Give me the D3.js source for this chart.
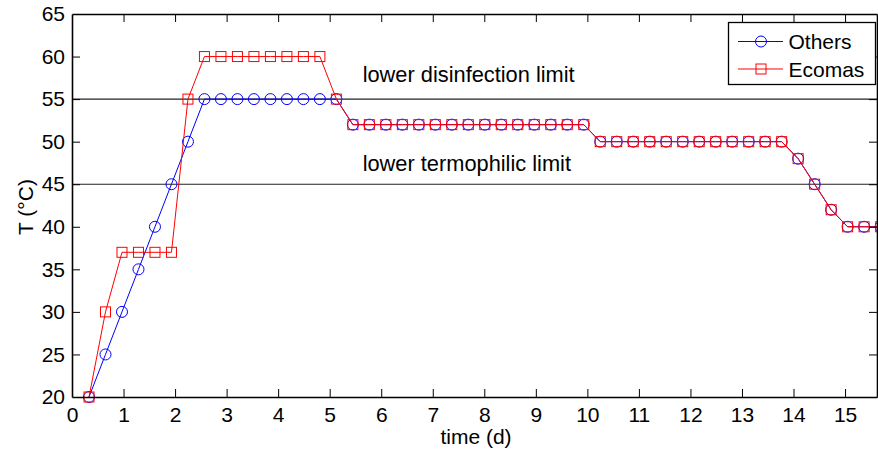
<!DOCTYPE html>
<html>
<head>
<meta charset="utf-8">
<script src="https://cdn.jsdelivr.net/npm/d3@7"></script>
<style>
  body { margin: 0; background: #fff; }
  svg { display: block; font-family: "Liberation Sans", Arial, sans-serif; }
</style>
</head>
<body>
<div id="chart"></div>
<script>
  // time grid (days), shared by both series
  var times = [0.33, 0.65, 0.97, 1.29, 1.61, 1.93, 2.25, 2.57, 2.89, 3.21, 3.53, 3.85, 4.17, 4.49, 4.81,
               5.13, 5.45, 5.77, 6.09, 6.41, 6.73, 7.05, 7.37, 7.69, 8.01, 8.33, 8.65, 8.97, 9.29, 9.61,
               9.93, 10.25, 10.57, 10.89, 11.21, 11.53, 11.85, 12.17, 12.49, 12.81, 13.13, 13.45, 13.77,
               14.09, 14.41, 14.73, 15.05, 15.37, 15.69];

  // temperature (°C)
  var others = [20, 25, 30, 35, 40, 45, 50, 55, 55, 55, 55, 55, 55, 55, 55,
                55, 52, 52, 52, 52, 52, 52, 52, 52, 52, 52, 52, 52, 52, 52,
                52, 50, 50, 50, 50, 50, 50, 50, 50, 50, 50, 50, 50,
                48, 45, 42, 40, 40, 40];
  var ecomas = [20, 30, 37, 37, 37, 37, 55, 60, 60, 60, 60, 60, 60, 60, 60,
                55, 52, 52, 52, 52, 52, 52, 52, 52, 52, 52, 52, 52, 52, 52,
                52, 50, 50, 50, 50, 50, 50, 50, 50, 50, 50, 50, 50,
                48, 45, 42, 40, 40, 40];

  var xTicks = d3.range(0, 16);
  var yTicks = [20, 25, 30, 35, 40, 45, 50, 55, 60, 65];

  // horizontal limit lines and their captions
  var limitValues = [55, 45];
  var limitLabels = ["lower disinfection limit", "lower termophilic limit"];
  var limitLabelX = [5.64, 5.64];
  var limitLabelY = [57.05, 46.6];

  var seriesNames = ["Others", "Ecomas"];
  var seriesColors = ["#0000ff", "#ff0000"];

  var fontSize = 21;
  var width = 878, height = 452;
  var margin = { top: 14, right: 1, bottom: 55, left: 72 };

  var x = d3.scaleLinear().domain([0, 15.62]).range([margin.left, width - margin.right]);
  var y = d3.scaleLinear().domain([20, 65]).range([height - margin.bottom, margin.top]);

  var svg = d3.select("#chart").append("svg")
              .attr("width", width)
              .attr("height", height);

  svg.append("defs").append("clipPath").attr("id", "plotClip")
     .append("rect")
     .attr("x", margin.left).attr("y", margin.top - 6)
     .attr("width", width - margin.left + 10).attr("height", height - margin.top - margin.bottom + 12);

  // limit lines
  svg.selectAll("line.limit")
     .data(limitValues)
     .enter().append("line")
     .attr("class", "limit")
     .attr("x1", x(0)).attr("x2", x(15.62))
     .attr("y1", function(d) { return y(d); })
     .attr("y2", function(d) { return y(d); })
     .attr("stroke", "#222")
     .attr("stroke-width", 1.1);

  svg.selectAll("text.limit")
     .data(limitLabels)
     .enter().append("text")
     .attr("class", "limit")
     .attr("x", function(d, i) { return x(limitLabelX[i]); })
     .attr("y", function(d, i) { return y(limitLabelY[i]); })
     .attr("font-size", 21.8)
     .attr("fill", "#000")
     .text(function(d) { return d; });

  // series
  var series = [others, ecomas];
  var line = d3.line()
               .x(function(d, i) { return x(times[i]); })
               .y(function(d) { return y(d); });

  var plot = svg.append("g").attr("clip-path", "url(#plotClip)");

  series.forEach(function(vals, s) {
    plot.append("path")
        .datum(vals)
        .attr("d", line)
        .attr("fill", "none")
        .attr("stroke", seriesColors[s])
        .attr("stroke-width", 1);

    if (s === 0) {
      plot.selectAll("circle.m")
          .data(vals)
          .enter().append("circle")
          .attr("cx", function(d, i) { return x(times[i]); })
          .attr("cy", function(d) { return y(d); })
          .attr("r", 5.5)
          .attr("fill", "none")
          .attr("stroke", seriesColors[s])
          .attr("stroke-width", 1);
    } else {
      plot.selectAll("rect.m")
          .data(vals)
          .enter().append("rect")
          .attr("x", function(d, i) { return x(times[i]) - 5; })
          .attr("y", function(d) { return y(d) - 5; })
          .attr("width", 10).attr("height", 10)
          .attr("fill", "none")
          .attr("stroke", seriesColors[s])
          .attr("stroke-width", 1);
    }
  });

  // axes (MATLAB style: inward ticks, boxed)
  var tickLen = 8;
  var xAxis = svg.append("g")
     .attr("transform", "translate(0," + y(20) + ")")
     .call(d3.axisBottom(x).tickValues(xTicks).tickSizeInner(-tickLen).tickSizeOuter(0).tickPadding(10));
  var xAxisTop = svg.append("g")
     .attr("transform", "translate(0," + y(65) + ")")
     .call(d3.axisTop(x).tickValues(xTicks).tickSizeInner(-tickLen).tickSizeOuter(0).tickFormat(""));
  var yAxis = svg.append("g")
     .attr("transform", "translate(" + x(0) + ",0)")
     .call(d3.axisLeft(y).tickValues(yTicks).tickSizeInner(-tickLen).tickSizeOuter(0).tickPadding(7));
  var yAxisRight = svg.append("g")
     .attr("transform", "translate(" + (width - 1) + ",0)")
     .call(d3.axisRight(y).tickValues(yTicks).tickSizeInner(-tickLen).tickSizeOuter(0).tickFormat(""));

  [xAxis, xAxisTop, yAxis, yAxisRight].forEach(function(g) {
    g.select(".domain").attr("stroke", "#000").attr("stroke-width", 1.6);
    g.selectAll(".tick line").attr("stroke", "#000").attr("stroke-width", 1);
    g.selectAll(".tick text").attr("font-size", fontSize).attr("fill", "#000")
     .attr("font-family", "'Liberation Sans', Arial, sans-serif");
  });
  // drop the ticks that sit on the box corners
  xAxis.selectAll(".tick").filter(function(d) { return d === 0; }).select("line").remove();
  xAxisTop.selectAll(".tick").filter(function(d) { return d === 0; }).select("line").remove();
  yAxis.selectAll(".tick").filter(function(d) { return d === 20 || d === 65; }).select("line").remove();
  yAxisRight.selectAll(".tick").filter(function(d) { return d === 20 || d === 65; }).select("line").remove();

  // axis labels
  svg.append("text")
     .attr("x", 476).attr("y", 444)
     .attr("text-anchor", "middle")
     .attr("font-size", fontSize)
     .text("time (d)");

  svg.append("text")
     .attr("transform", "translate(33," + 207 + ") rotate(-90)")
     .attr("text-anchor", "middle")
     .attr("font-size", fontSize)
     .text("T (°C)");

  // legend
  var legend = svg.append("g");
  legend.append("rect")
        .attr("x", 728.5).attr("y", 22.5)
        .attr("width", 147).attr("height", 62)
        .attr("fill", "#fff")
        .attr("stroke", "#000")
        .attr("stroke-width", 1.3);

  seriesNames.forEach(function(name, i) {
    var ly = 41.5 + i * 27.5;
    legend.append("line")
          .attr("x1", 738).attr("x2", 783)
          .attr("y1", ly).attr("y2", ly)
          .attr("stroke", seriesColors[i]).attr("stroke-width", 1);
    if (i === 0) {
      legend.append("circle").attr("cx", 761).attr("cy", ly).attr("r", 5.5)
            .attr("fill", "none").attr("stroke", seriesColors[i]);
    } else {
      legend.append("rect").attr("x", 756).attr("y", ly - 5).attr("width", 10).attr("height", 10)
            .attr("fill", "none").attr("stroke", seriesColors[i]);
    }
    legend.append("text")
          .attr("x", 788.5).attr("y", ly + 7.5)
          .attr("font-size", fontSize)
          .text(name);
  });
</script>
</body>
</html>
